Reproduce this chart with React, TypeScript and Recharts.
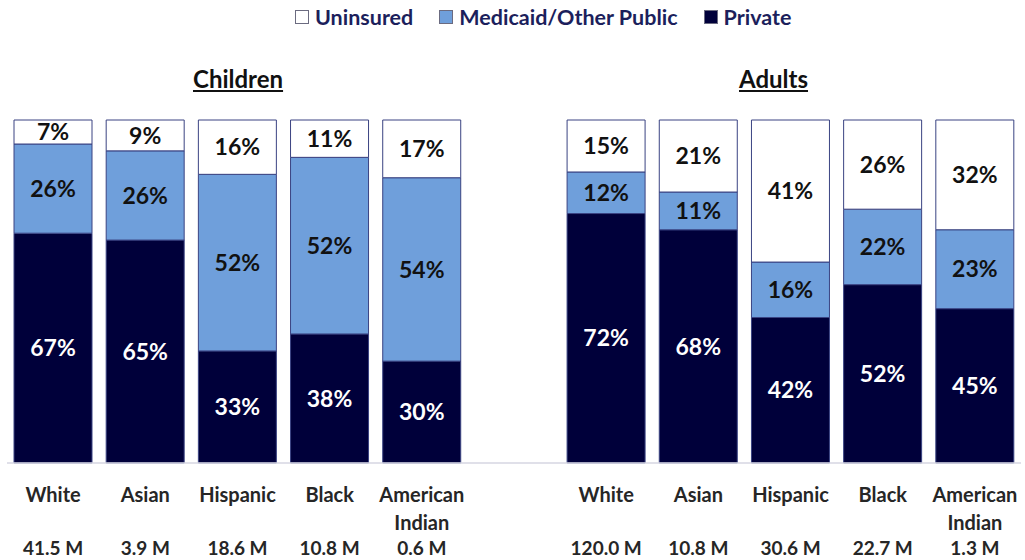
import React from "react"
import { BarChart, Bar, XAxis, YAxis, LabelList } from "recharts"

const groups = ["Children", "Adults"]
const races = ["White", "Asian", "Hispanic", "Black", "American Indian"]

const childPrivate = [67, 65, 33, 38, 30]
const childPublic = [26, 26, 52, 52, 54]
const childUninsured = [7, 9, 16, 11, 17]
const childPop = ["41.5 M", "3.9 M", "18.6 M", "10.8 M", "0.6 M"]

const adultPrivate = [72, 68, 42, 52, 45]
const adultPublic = [12, 11, 16, 22, 23]
const adultUninsured = [15, 21, 41, 26, 32]
const adultPop = ["120.0 M", "10.8 M", "30.6 M", "22.7 M", "1.3 M"]

const NAVY = "#00003a"
const BLUE = "#6f9fdb"
const EDGE = "#3a4382"
const FONT = "Lato, 'Open Sans', sans-serif"

type Row = {
  key: string
  name: string
  pop: string
  private?: number
  public?: number
  uninsured?: number
}

// one empty slot between the two groups keeps the gap in the picture
const data: Row[] = [
  ...races.map((r, i) => ({
    key: "c" + i,
    name: r,
    pop: childPop[i],
    private: childPrivate[i],
    public: childPublic[i],
    uninsured: childUninsured[i],
  })),
  { key: "gap", name: "", pop: "" },
  ...races.map((r, i) => ({
    key: "a" + i,
    name: r,
    pop: adultPop[i],
    private: adultPrivate[i],
    public: adultPublic[i],
    uninsured: adultUninsured[i],
  })),
]

const pct = (v: any) => (v == null ? "" : `${v}%`)

const RaceTick = (props: any) => {
  const { x, y, payload } = props
  const row = data[payload.index]
  if (!row || !row.name) return null
  const lines = row.name.split(" ")
  return (
    <g transform={`translate(${x},${y})`}>
      {lines.map((l: string, i: number) => (
        <text key={l} x={0} dy={39 + i * 28} textAnchor="middle" fill="#262626" fontSize={20} fontWeight={700} fontFamily={FONT}>
          {l}
        </text>
      ))}
      <text x={0} dy={92} textAnchor="middle" fill="#262626" fontSize={19} fontWeight={700} fontFamily={FONT}>
        {row.pop}
      </text>
    </g>
  )
}

const legendItems = [
  { label: "Uninsured", fill: "#ffffff" },
  { label: "Medicaid/Other Public", fill: BLUE },
  { label: "Private", fill: NAVY },
]

export default function App() {
  return (
    <div style={{ position: "absolute", left: 0, top: 0, width: 1025, height: 560, background: "#fff", fontFamily: FONT }}>
      <div style={{ position: "absolute", top: 4, left: 295, display: "flex", gap: 26 }}>
        {legendItems.map((it) => (
          <div key={it.label} style={{ display: "flex", alignItems: "center", gap: 6, color: "#1c1f5c", fontWeight: 700, fontSize: 21.5 }}>
            <span style={{ display: "inline-block", width: 12, height: 12, background: it.fill, border: "1.5px solid #6b6b80" }} />
            <span>{it.label}</span>
          </div>
        ))}
      </div>
      <div style={{ position: "absolute", top: 64, left: 193, fontSize: 24, fontWeight: 700, color: "#111", textDecoration: "underline" }}>{groups[0]}</div>
      <div style={{ position: "absolute", top: 64, left: 739, fontSize: 24, fontWeight: 700, color: "#111", textDecoration: "underline" }}>{groups[1]}</div>
      <BarChart
        width={1025}
        height={560}
        data={data}
        stackOffset="expand"
        margin={{ top: 120, right: 4, bottom: 0, left: 7 }}
      >
        <XAxis
          dataKey="key"
          interval={0}
          height={97}
          tickLine={false}
          tickSize={0}
          tickMargin={0}
          axisLine={{ stroke: "#d6d6e2", strokeWidth: 1.5 }}
          tick={<RaceTick />}
        />
        <YAxis hide domain={[0, 1]} />
        <Bar dataKey="private" stackId="s" fill={NAVY} stroke={EDGE} strokeWidth={1} barSize={78} isAnimationActive={false}>
          <LabelList dataKey="private" position="center" formatter={pct} fill="#ffffff" fontSize={23} fontWeight={700} fontFamily={FONT} />
        </Bar>
        <Bar dataKey="public" stackId="s" fill={BLUE} stroke={EDGE} strokeWidth={1} barSize={78} isAnimationActive={false}>
          <LabelList dataKey="public" position="center" formatter={pct} fill="#111111" fontSize={23} fontWeight={700} fontFamily={FONT} />
        </Bar>
        <Bar dataKey="uninsured" stackId="s" fill="#ffffff" stroke={EDGE} strokeWidth={1} barSize={78} isAnimationActive={false}>
          <LabelList dataKey="uninsured" position="center" formatter={pct} fill="#111111" fontSize={23} fontWeight={700} fontFamily={FONT} />
        </Bar>
      </BarChart>
    </div>
  )
}
